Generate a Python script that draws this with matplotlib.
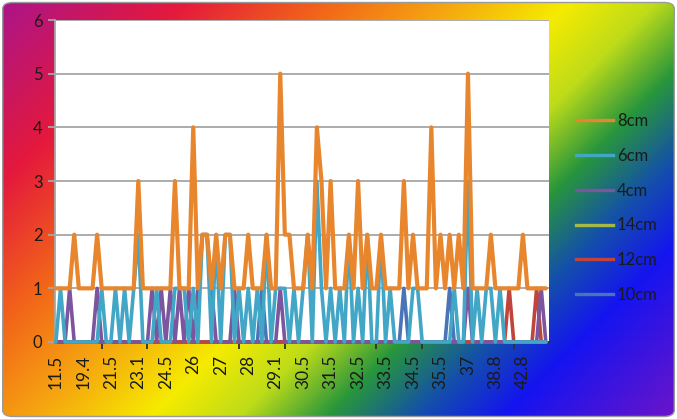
import numpy as np
import matplotlib
matplotlib.use("Agg")
import matplotlib.pyplot as plt
from matplotlib.patches import FancyBboxPatch
from matplotlib.lines import Line2D

plt.rcParams['font.family'] = ['Lato', 'DejaVu Sans']

# ---------------- data ----------------
n_categories = 108
tick_labels = ["11.5", "19.4", "21.5", "23.1", "24.5", "26", "27", "28", "29.1",
               "30.5", "31.5", "32.5", "33.5", "34.5", "35.5", "37", "38.8", "42.8"]
label_step = 6      # one label every 6 categories
mark_step = 10      # one tick mark every 10 categories

s_8cm = [1,1,1,1,2,1,1,1,1,2,
         1,1,1,1,1,1,1,1,3,1,
         1,1,1,1,1,1,3,1,1,1,
         4,1,2,2,1,2,1,2,2,1,
         1,1,2,1,1,1,2,1,1,5,
         2,2,1,1,1,2,1,4,3,1,
         3,1,1,1,2,1,3,1,2,1,
         1,2,1,1,1,1,3,1,2,1,
         1,1,4,1,2,1,2,1,2,1,
         5,1,1,1,1,2,1,1,1,1,
         1,1,2,1,1,1,1,1]
s_6cm = [0,1,0,0,0,0,0,0,0,0,
         1,0,0,1,0,1,0,1,2,0,
         0,0,1,0,0,0,1,1,1,0,
         1,0,2,2,0,2,0,2,2,0,
         1,0,1,0,1,0,2,0,1,1,
         1,0,1,0,1,2,0,3,1,0,
         1,0,1,0,2,0,1,0,2,0,
         0,2,0,1,0,0,0,0,1,1,
         0,0,0,0,0,0,0,1,0,0,
         3,0,1,0,1,1,0,1,0,0,
         0,0,0,0,0,0,0,0]
s_4cm = [0,0,0,1,0,0,0,0,0,1,
         0,0,0,0,0,0,0,0,0,0,
         0,1,0,1,0,1,0,1,0,1,
         0,1,2,2,1,0,0,0,0,1,
         0,0,0,0,0,0,0,0,0,1,
         0,0,0,0,0,0,0,0,0,0,
         0,0,0,0,0,0,0,0,0,0,
         0,0,0,0,0,0,0,0,0,0,
         0,0,0,0,0,0,0,0,0,0,
         1,0,0,0,0,0,0,0,0,0,
         0,0,0,0,0,0,1,0]
s_14cm = [0]*108
s_12cm = [0,0,0,0,0,0,0,0,0,0,
          0,0,0,0,0,0,0,0,0,0,
          0,0,0,0,0,0,0,0,0,0,
          0,0,0,0,0,0,0,0,0,0,
          0,0,0,0,0,0,0,0,0,0,
          0,0,0,0,0,0,0,0,0,0,
          0,0,0,0,0,0,0,0,0,0,
          0,0,0,0,0,0,0,0,0,0,
          0,0,0,0,0,0,0,0,0,0,
          0,0,0,0,0,0,0,0,0,1,
          0,0,0,0,0,1,0,0]
s_10cm = [0,0,0,0,0,0,0,0,0,0,
          0,0,0,0,0,0,0,0,0,0,
          0,0,0,0,0,0,0,0,0,0,
          0,0,0,0,0,0,0,0,0,0,
          0,0,0,0,0,1,0,0,0,0,
          0,0,0,0,0,0,0,0,0,0,
          0,0,0,0,0,0,0,0,0,0,
          0,0,0,0,0,0,1,0,0,0,
          0,0,0,0,0,0,1,0,0,0,
          0,0,0,0,0,0,0,0,0,0,
          0,0,0,0,0,0,0,0]

legend_names = ["8cm", "6cm", "4cm", "14cm", "12cm", "10cm"]
series = {"8cm": s_8cm, "6cm": s_6cm, "4cm": s_4cm,
          "14cm": s_14cm, "12cm": s_12cm, "10cm": s_10cm}
colors = {"8cm": "#E8862E", "6cm": "#42A6C6", "4cm": "#7B559E",
          "14cm": "#A3B948", "12cm": "#C0443C", "10cm": "#4A74B8"}
widths = {"8cm": 3.0, "6cm": 2.6, "4cm": 2.6, "14cm": 2.6, "12cm": 2.6, "10cm": 2.6}
draw_order = ["14cm", "10cm", "12cm", "4cm", "6cm", "8cm"]

# ---------------- figure ----------------
W, H = 677, 419
fig = plt.figure(figsize=(W / 100, H / 100), dpi=100)
fig.patch.set_facecolor("white")

bg = fig.add_axes([0, 0, 1, 1])
bg.set_axis_off()
yy, xx = np.mgrid[0:1:H * 1j, 0:1:W * 1j]
t = (1.6 * xx + yy) / 2.6
stops = [0.0, 0.17, 0.30, 0.42, 0.52, 0.60, 0.68, 0.76, 0.84, 1.0]
cols = np.array([(170, 20, 140), (228, 25, 60), (242, 100, 25), (246, 170, 15),
                 (245, 235, 0), (190, 220, 25), (40, 150, 60), (20, 80, 170),
                 (20, 20, 240), (110, 20, 200)]) / 255.0
img = np.stack([np.interp(t, stops, cols[:, k]) for k in range(3)], axis=-1)
im = bg.imshow(img, extent=[0, 1, 0, 1], origin="upper", aspect="auto")
bg.set_xlim(0, 1)
bg.set_ylim(0, 1)
frame = FancyBboxPatch((0.004, 0.006), 0.992, 0.988,
                       boxstyle="round,pad=0,rounding_size=0.015",
                       transform=bg.transAxes, facecolor="none",
                       edgecolor="#9a9a9a", lw=1)
bg.add_patch(frame)
im.set_clip_path(frame)

ax = fig.add_axes([55 / W, 1 - 342 / H, 494 / W, 322 / H])
ax.set_facecolor("white")
x = np.arange(n_categories)
for name in draw_order:
    ax.plot(x, series[name], color=colors[name], lw=widths[name],
            solid_joinstyle="round", solid_capstyle="round",
            clip_on=False, zorder=3)

ax.set_xlim(-0.2, n_categories - 0.3)
ax.set_ylim(0, 6)
ax.set_yticks(range(0, 7))
ax.yaxis.grid(True, color="#A6A6A6", lw=1.3)
ax.set_axisbelow(True)

ax.set_xticks(np.arange(0, n_categories, label_step)[:len(tick_labels)])
ax.set_xticklabels(tick_labels, rotation=90, va="top", ha="center")
ax.set_xticks(np.arange(0, n_categories, mark_step), minor=True)
ax.tick_params(axis="x", which="major", length=0, pad=9, labelsize=12.5,
               labelcolor="#1a1a1a")
ax.tick_params(axis="x", which="minor", length=5, width=1.3, color="#303030")
ax.tick_params(axis="y", length=5, width=1.3, color="#A6A6A6", pad=4,
               labelsize=12, labelcolor="#1a1a1a")

for s in ["top", "right"]:
    ax.spines[s].set_visible(False)
ax.spines["left"].set_color("#A6A6A6")
ax.spines["left"].set_linewidth(1.3)
ax.spines["bottom"].set_color("#303030")
ax.spines["bottom"].set_linewidth(1.3)

handles = [Line2D([0], [0], color=colors[n], lw=2.4) for n in legend_names]
leg = ax.legend(handles, legend_names, loc="upper left",
                bbox_to_anchor=(576 / W, 1 - 113 / H),
                bbox_transform=fig.transFigure, frameon=False,
                fontsize=12, handlelength=2.2, handletextpad=0.25,
                labelspacing=1.13, borderpad=0, borderaxespad=0)
for txt in leg.get_texts():
    txt.set_color("#1a1a1a")

fig.savefig("out.png", dpi=100)
